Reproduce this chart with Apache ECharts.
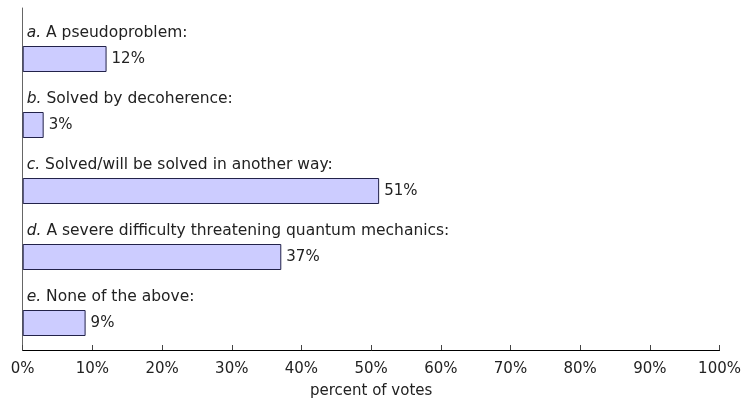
<!DOCTYPE html>
<html><head><meta charset="utf-8">
<script src="https://cdn.jsdelivr.net/npm/echarts@6/dist/echarts.min.js"></script>
<style>html,body{margin:0;padding:0;background:#fff}#c{width:744px;height:407px}</style>
</head><body><div id="c"></div>
<script>
const letters = ['a.', 'b.', 'c.', 'd.', 'e.'];
const categories = ['A pseudoproblem:', 'Solved by decoherence:', 'Solved/will be solved in another way:', 'A severe difficulty threatening quantum mechanics:', 'None of the above:'];
const votes = [12, 3, 51, 37, 9];
const xTicks = [0, 10, 20, 30, 40, 50, 60, 70, 80, 90, 100];

const FONT = 'DejaVu Sans';
const FS = 15;
const FSC = 15.5;
const chart = echarts.init(document.getElementById('c'));
chart.setOption({
  animation: false,
  textStyle: {fontFamily: FONT},
  grid: [
    {left: 22.7, right: 22.4, top: 26, height: 330},
    {left: 22.7, right: 22.4, top: 8, bottom: 57}
  ],
  xAxis: [
    {gridIndex: 0, type: 'value', min: 0, max: 100, show: false},
    {gridIndex: 1, type: 'value', min: xTicks[0], max: xTicks[xTicks.length-1], interval: 10,
     axisLine: {show: true, lineStyle: {color: '#000', width: 1}},
     axisTick: {show: true, inside: true, length: 5, lineStyle: {color: '#444'}},
     splitLine: {show: false},
     axisLabel: {formatter: '{value}%', color: '#222', fontSize: FS, fontFamily: FONT, margin: 12},
     name: 'percent of votes', nameLocation: 'middle', nameGap: 34,
     nameTextStyle: {color: '#222', fontSize: FS, fontFamily: FONT}}
  ],
  yAxis: [
    {gridIndex: 0, type: 'category', inverse: true, data: categories,
     axisLine: {show: false}, axisTick: {show: false}, splitLine: {show: false},
     axisLabel: {inside: true, margin: 4, color: '#222', fontSize: FSC, fontFamily: FONT,
       verticalAlign: 'middle', padding: [0, 0, 52, 0],
       formatter: function (v, i) { return '{i|' + letters[i] + '} ' + v; },
       rich: {i: {fontStyle: 'italic', fontSize: FSC, fontFamily: FONT, color: '#222'}}}},
    {gridIndex: 1, type: 'value', min: 0, max: 1,
     axisLine: {show: true, lineStyle: {color: '#666', width: 1}},
     axisTick: {show: false}, axisLabel: {show: false}, splitLine: {show: false}}
  ],
  series: [{
    type: 'bar', xAxisIndex: 0, yAxisIndex: 0, data: votes, barWidth: 26,
    itemStyle: {color: '#ccccff', borderColor: '#22224a', borderWidth: 1},
    label: {show: true, position: 'right', distance: 5, formatter: '{c}%', color: '#222', fontSize: FS, fontFamily: FONT}
  }]
});
</script></body></html>
